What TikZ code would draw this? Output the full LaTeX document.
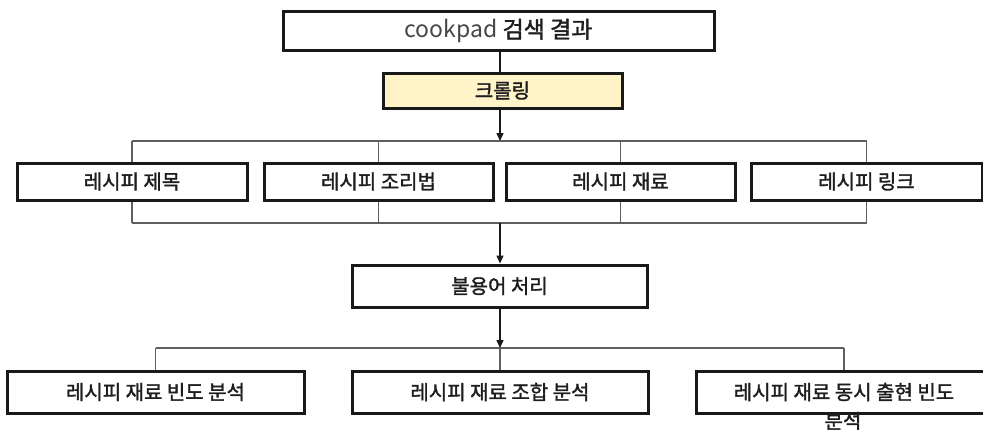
\documentclass[tikz,border=0pt]{standalone}
\usepackage{fontspec}
\setmainfont{Noto Sans CJK KR}
\newfontfamily\krsemi{Noto Sans CJK KR}[FakeBold=1.6]
\usetikzlibrary{backgrounds,arrows.meta}
\definecolor{boxline}{RGB}{25,25,25}
\definecolor{conn}{RGB}{95,95,95}
\definecolor{crawl}{RGB}{255,243,200}
\definecolor{txt}{RGB}{30,30,30}
\tikzset{
  stepbox/.style={draw=boxline, line width=3pt, fill=white, inner sep=0pt,
    font=\krsemi\fontsize{20}{24}\selectfont, text=txt},
  conline/.style={draw=conn, line width=1.4pt},
  arrline/.style={draw=boxline, line width=1.5pt, -{Triangle[length=8pt,width=7pt]}},
}
\begin{document}
\begin{tikzpicture}[x=1pt,y=-1pt]
\useasboundingbox (0,0) rectangle (983,429);
% nodes
\node[stepbox, minimum width=431, minimum height=39, font=\krsemi\fontsize{23}{26}\selectfont] (top) at (498.5,31)
  {\textcolor[RGB]{70,70,70}{\normalfont\fontsize{23}{26}\selectfont cookpad} 검색 결과};
\node[stepbox, fill=crawl, minimum width=239, minimum height=35] (crawl) at (502.5,90.5) {크롤링};
\node[stepbox, minimum width=230, minimum height=37] (b1) at (132,181.5) {레시피 제목};
\node[stepbox, minimum width=229, minimum height=37] (b2) at (378.5,181.5) {레시피 조리법};
\node[stepbox, minimum width=229, minimum height=37] (b3) at (620.5,181.5) {레시피 재료};
\node[stepbox, minimum width=231, minimum height=37] (b4) at (866.5,181.5) {레시피 링크};
\node[stepbox, minimum width=295, minimum height=42] (stop) at (499.5,286) {불용어 처리};
\node[stepbox, minimum width=297, minimum height=42] (c1) at (155.5,392) {레시피 재료 빈도 분석};
\node[stepbox, minimum width=296, minimum height=42] (c2) at (500,392) {레시피 재료 조합 분석};
\node[stepbox, minimum width=296, minimum height=42] (c3) at (844,392) {레시피 재료 동시 출현 빈도};
\node[font=\krsemi\fontsize{20}{24}\selectfont, text=txt, inner sep=0pt] (c3b) at (843,421) {분석};
\coordinate (tb) at (500,141);
\coordinate (bb) at (500,223);
\coordinate (lb) at (500,348);
\begin{pgfonlayer}{background}
  \draw[conline] (b1.center |- tb) -- (b4.center |- tb);
  \draw[conline] (b1.center |- bb) -- (b4.center |- bb);
  \foreach \b in {b1,b2,b3,b4}
    \draw[conline] (\b.center |- tb) -- (\b.center |- bb);
  \draw[conline] (c1.center |- lb) -- (c3.center |- lb);
  \draw[conline] (c1.center |- lb) -- (c1.north);
  \draw[conline] (c2.center |- lb) -- (c2.north);
  \draw[conline] (c3.center |- lb) -- (c3.north);
\end{pgfonlayer}
\draw[draw=boxline, line width=1.5pt] (top.south -| tb) -- (crawl.north -| tb);
\draw[arrline] (crawl.south -| tb) -- (tb);
\draw[arrline] (bb) -- (stop.north -| bb);
\draw[arrline] (stop.south -| bb) -- (lb);
\end{tikzpicture}
\end{document}
